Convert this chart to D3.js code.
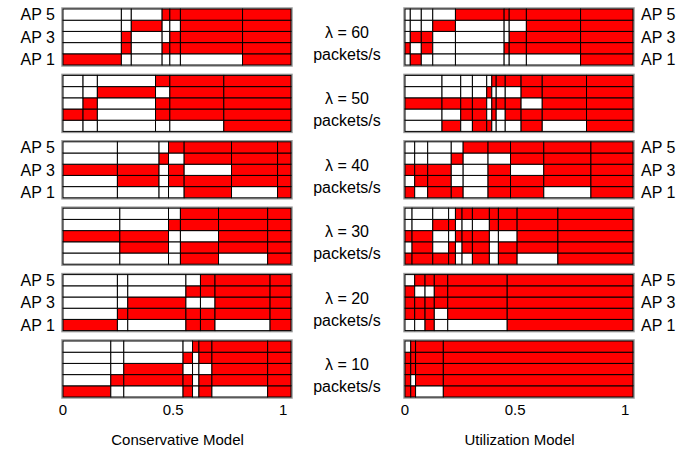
<!DOCTYPE html>
<html><head><meta charset="utf-8">
<script src="https://cdn.jsdelivr.net/npm/d3@7"></script>
<style>body{margin:0;background:#fff}svg{display:block}text{font-family:"Liberation Sans",Arial,sans-serif;fill:#000}</style>
</head><body>
<script>
const lambdas = [60, 50, 40, 30, 20, 10];
const apNames = ["AP 5", "AP 4", "AP 3", "AP 2", "AP 1"];
const apShown = ["AP 5", "AP 3", "AP 1"];
const xTicks = [0, 0.5, 1];
const xMax = 1.035;
const modelTitles = ["Conservative Model", "Utilization Model"];

// segment boundaries (time, normalized) per panel, lambda = 60 ... 10
const conservativeBounds = [
  [0, 0.265, 0.310, 0.450, 0.485, 0.533, 0.815, 1.035],
  [0, 0.091, 0.156, 0.420, 0.485, 0.730, 1.035],
  [0, 0.247, 0.436, 0.479, 0.550, 0.765, 0.974, 1.035],
  [0, 0.258, 0.479, 0.533, 0.706, 0.929, 1.035],
  [0, 0.247, 0.294, 0.558, 0.624, 0.690, 0.940, 1.035],
  [0, 0.217, 0.276, 0.545, 0.588, 0.617, 0.676, 0.929, 1.035]
];
// transmitting state per segment, rows AP 1 ... AP 5 (1 = red)
const conservativeStates = [
  ["1000001", "0101111", "0100111", "0010011", "0001111"],
  ["000001", "110111", "010111", "001011", "000111"],
  ["0000101", "0101111", "1101011", "0010111", "0001111"],
  ["000101", "010111", "110011", "001111", "000111"],
  ["1001101", "0111111", "0010011", "0001111", "0000111"],
  ["10010101", "01110111", "00100011", "00010111", "00001111"]
];
const utilizationBounds = [
  [0, 0.024, 0.074, 0.126, 0.229, 0.450, 0.473, 0.551, 0.797, 1.035],
  [0, 0.168, 0.253, 0.306, 0.371, 0.394, 0.414, 0.455, 0.527, 0.623, 0.824, 1.035],
  [0, 0.044, 0.103, 0.210, 0.264, 0.377, 0.479, 0.630, 0.844, 1.035],
  [0, 0.032, 0.126, 0.198, 0.229, 0.259, 0.306, 0.383, 0.424, 0.509, 0.694, 1.035],
  [0, 0.044, 0.091, 0.133, 0.194, 0.464, 1.035],
  [0, 0.026, 0.048, 0.174, 1.035]
];
const utilizationStates = [
  ["010000001", "101001111", "011000111", "000100011", "000011111"],
  ["01011000101", "00110101111", "11110111011", "00001000111", "00000111111"],
  ["101101101", "011001111", "111001011", "000100111", "000011111"],
  ["11110010101", "01010110111", "11001110011", "00110001111", "00001111111"],
  ["001001", "111011", "111111", "100111", "011111"],
  ["1101", "1011", "1111", "1111", "0111"]
];

const W = 692, H = 457;
const svg = d3.select("body").append("svg").attr("width", W).attr("height", H);

const panelW = 228, panelH = 56, top0 = 9, step = 66.4;
const colX = [63, 405];
const x = d3.scaleLinear().domain([0, xMax]).range([0, panelW]);
const y = d3.scaleBand().domain(apNames).range([0, panelH]);

function drawColumn(cx, bounds, states, labelSide, labelRows) {
  bounds.forEach((b, i) => {
    const g = svg.append("g").attr("transform", `translate(${cx},${top0 + i * step})`);
    const cells = [];
    states[i].forEach((s, k) => {
      const ap = apNames[4 - k];
      for (let j = 0; j < b.length - 1; j++) {
        cells.push({ap, x0: b[j], x1: b[j + 1], on: s[j] === "1"});
      }
    });
    g.append("rect").attr("x", -1).attr("y", -1).attr("width", panelW + 2).attr("height", panelH + 2)
      .attr("fill", "none").attr("stroke", "#999").attr("stroke-width", 1.5);
    g.selectAll("rect.c").data(cells).join("rect").attr("class", "c")
      .attr("x", d => x(d.x0)).attr("y", d => y(d.ap))
      .attr("width", d => x(d.x1) - x(d.x0)).attr("height", y.bandwidth())
      .attr("fill", d => d.on ? "#ff0000" : "#ffffff")
      .attr("stroke", "#000").attr("stroke-width", 1);
    if (labelRows.includes(i)) {
      g.selectAll("text.ap").data(apShown).join("text").attr("class", "ap")
        .attr("x", labelSide === "left" ? -8 : panelW + 8)
        .attr("y", d => y(d) + y.bandwidth() / 2)
        .attr("dy", "0.36em")
        .attr("text-anchor", labelSide === "left" ? "end" : "start")
        .attr("font-size", 16).text(d => d);
    }
  });
  const ax = svg.append("g").attr("transform", `translate(${cx},${top0 + 5 * step + panelH})`);
  ax.selectAll("text").data(xTicks).join("text")
    .attr("x", d => x(d)).attr("y", 18).attr("text-anchor", "middle")
    .attr("font-size", 15).text(d => d3.format("~g")(d));
}

drawColumn(colX[0], conservativeBounds, conservativeStates, "left", [0, 2, 4]);
drawColumn(colX[1], utilizationBounds, utilizationStates, "right", [2, 4, 0]);

modelTitles.forEach((t, i) => {
  svg.append("text").attr("x", colX[i] + x(0.52)).attr("y", 445)
    .attr("text-anchor", "middle").attr("font-size", 15).text(t);
});

lambdas.forEach((l, i) => {
  const ty = top0 + i * step;
  svg.append("text").attr("x", 347).attr("y", ty + 29).attr("text-anchor", "middle")
    .attr("font-size", 16).text(`λ = ${l}`);
  svg.append("text").attr("x", 347).attr("y", ty + 51).attr("text-anchor", "middle")
    .attr("font-size", 16).text("packets/s");
});
</script>
</body></html>
